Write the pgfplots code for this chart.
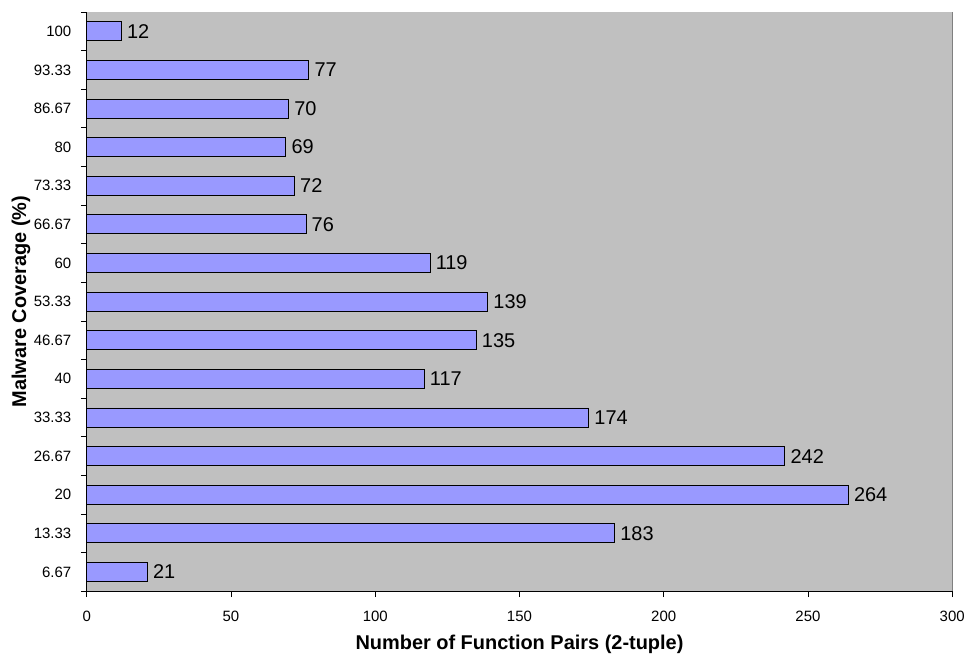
\documentclass[border=0pt]{standalone}
\usepackage{pgfplots}
\pgfplotsset{compat=1.18}
\usepackage{fontspec}
\setmainfont{Liberation Sans}
\definecolor{barblue}{HTML}{9999FF}
\definecolor{bggray}{HTML}{C0C0C0}
\definecolor{edgegray}{HTML}{808080}
\begin{document}
\begin{tikzpicture}
\begin{axis}[
  scale only axis,
  width=868pt, height=581pt,
  xbar, bar width=19pt,
  xmin=0, xmax=300, ymin=-0.5, ymax=14.5,
  xtick={0,50,...,300},
  ytick={0,...,14},
  yticklabels={6.67,13.33,20,26.67,33.33,40,46.67,53.33,60,66.67,73.33,80,86.67,93.33,100},
  minor ytick={-0.5,0.5,...,14.5},
  major y tick style={draw=none},
  tick align=outside,
  major tick length=6pt, minor tick length=6pt,
  tick style={black, line width=0.8pt},
  axis x line*=bottom, axis y line*=left,
  axis line style={black, line width=0.8pt},
  axis background/.style={fill=bggray},
  /pgf/number format/assume math mode=true,
  ticklabel style={font=\fontsize{15}{17}\selectfont},
  yticklabel style={xshift=-6pt},
  xticklabel style={yshift=-10pt},
  xlabel={\textbf{Number of Function Pairs (2-tuple)}},
  ylabel={\textbf{Malware Coverage (\%)}},
  label style={font=\fontsize{20}{24}\selectfont},
  xlabel style={at={([yshift=-53pt]axis description cs:0.5,0)}, anchor=center},
  ylabel style={at={([xshift=-66pt]axis description cs:0,0.5)}, anchor=center},
  nodes near coords,
  every node near coord/.append style={font=\fontsize{20}{24}\selectfont, anchor=west, xshift=2pt, black},
  clip=false,
]
\addplot[fill=barblue, draw=black, line width=0.8pt] coordinates {
(21,0) (183,1) (264,2) (242,3) (174,4) (117,5) (135,6) (139,7) (119,8) (76,9) (72,10) (69,11) (70,12) (77,13) (12,14)
};
\draw[edgegray, line width=0.8pt] (rel axis cs:1,0) -- (rel axis cs:1,1);
\end{axis}
\path (current axis.south west) ++(-87pt,-61pt) coordinate (bbA);
\path (current axis.north east) ++(13pt,12pt) coordinate (bbB);
\useasboundingbox (bbA) rectangle (bbB);
\end{tikzpicture}
\end{document}
